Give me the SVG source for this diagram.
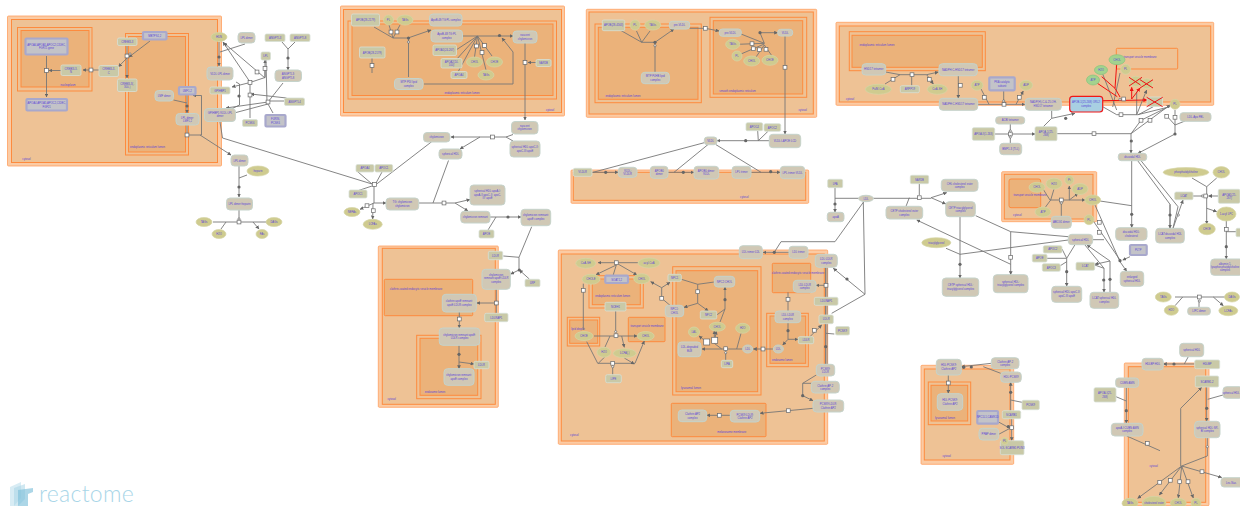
<svg xmlns="http://www.w3.org/2000/svg" width="1240" height="506" viewBox="0 0 1240 506">
<style>
text{font-family:"Liberation Sans",Arial,sans-serif;font-size:2.7px;fill:#5a44d8;text-anchor:middle}
.o{fill:#fbcba4;stroke:#ff9f60;stroke-width:.8}
.i{fill:#eec295;stroke:#fd8b3e;stroke-width:1}
.i2{fill:#ebb27a;stroke:#fd8b3e;stroke-width:1}
.c{fill:#d0c8b5;stroke:#c5d3cb;stroke-width:1}
.p{fill:#c9c9a7;stroke:#d7e0d5;stroke-width:.8}
.s{fill:#c3c3c8;stroke:#a8a8cc;stroke-width:2.2}
.e{fill:#cfcb8f;stroke:#d5d6a8;stroke-width:.7}
.g{fill:#a3d28e;stroke:#86c47c;stroke-width:.7}
.b{fill:#a8cfe2;stroke:#f01818;stroke-width:1.2}
.l{fill:none;stroke:#777;stroke-width:.9}
.a{fill:none;stroke:#777;stroke-width:.9;marker-end:url(#a)}
.rl{fill:none;stroke:#f01010;stroke-width:1}
.ra{fill:none;stroke:#f01010;stroke-width:1;marker-end:url(#r)}
.q{fill:#fff;stroke:#666;stroke-width:.7}
.d{fill:#666}
.x{fill:none;stroke:#ee1414;stroke-width:1}
</style>
<defs>
<marker id="a" viewBox="0 0 6 6" refX="5.5" refY="3" markerWidth="3.8" markerHeight="3.8" markerUnits="userSpaceOnUse" orient="auto"><path d="M0 0L6 3L0 6z" fill="#666"/></marker>
<marker id="r" viewBox="0 0 6 6" refX="5.5" refY="3" markerWidth="4" markerHeight="4" markerUnits="userSpaceOnUse" orient="auto"><path d="M0 0L6 3L0 6z" fill="#f01010"/></marker>
<rect id="sq" x="-1.9" y="-1.9" width="3.800" height="3.800" class="q"/>
<rect id="sb" x="-3" y="-3" width="6" height="6" class="q"/>
<circle id="dt" r="1.6" class="d"/>
<circle id="ci" r="1.1" class="q"/>
</defs>

<g id="compartments">
<rect class="o" x="7.5" y="16" width="214" height="150" rx="1"/><rect class="i" x="11.5" y="19.5" width="206" height="143"/>
<rect class="i" x="17.5" y="27.5" width="74.5" height="63.5"/><rect class="i2" x="21" y="30.5" width="68" height="56.5"/>
<rect class="i" x="125.5" y="33.5" width="63" height="121.500"/><rect class="i2" x="128.500" y="36.500" width="57" height="115.500"/>
<rect class="o" x="340.500" y="6" width="224" height="110" rx="1"/><rect class="i" x="343.500" y="9.500" width="218" height="103"/>
<rect class="i" x="348" y="21" width="208.500" height="78"/><rect class="i2" x="352" y="24" width="201" height="71.500"/>
<rect class="o" x="586.300" y="9.300" width="230.400" height="108" rx="1"/><rect class="i" x="589" y="12" width="224.300" height="102"/>
<rect class="i" x="595" y="24" width="106.300" height="78.700"/><rect class="i2" x="598.300" y="27.300" width="99.700" height="72"/>
<rect class="i" x="710" y="17.300" width="96.700" height="80"/><rect class="i2" x="713.300" y="20.700" width="89.400" height="73.300"/>
<rect class="o" x="836" y="22.300" width="377.700" height="83" rx="1"/><rect class="i" x="839.300" y="26" width="371.400" height="76"/>
<rect class="i" x="849.300" y="31.700" width="136" height="39"/><rect class="i2" x="852" y="35.300" width="130.300" height="32"/>
<rect class="i" x="1116.300" y="48.300" width="61.400" height="20.700" rx="1"/>
<rect class="o" x="571" y="170" width="237.700" height="33.300" rx="1"/><rect class="i" x="573.300" y="172.300" width="232.400" height="28"/>
<rect class="o" x="1001.700" y="171.700" width="95" height="50" rx="1"/><rect class="i" x="1004.300" y="174.300" width="88.700" height="44.700"/>
<rect class="i2" x="1009" y="179" width="31.700" height="28.700" rx="2"/>
<rect class="o" x="378.300" y="246" width="120" height="161.300" rx="1"/><rect class="i" x="382.300" y="248.300" width="113" height="156"/>
<rect class="i2" x="384.300" y="279.300" width="88.400" height="36.400" rx="1"/>
<rect class="i" x="416.700" y="335.300" width="64.300" height="63.400"/><rect class="i2" x="420" y="338.300" width="57.700" height="57"/>
<rect class="o" x="558.300" y="250" width="269.400" height="194.300" rx="1"/><rect class="i" x="561.300" y="254" width="263" height="187"/>
<rect class="i" x="589" y="275.700" width="54.300" height="32.300"/><rect class="i2" x="592.300" y="279" width="48" height="25.700"/>
<rect class="i" x="567.300" y="317.300" width="32.400" height="28.700"/><rect class="i2" x="569.700" y="320" width="28" height="23.300"/>
<rect class="i2" x="628.300" y="317.300" width="36.700" height="24.400" rx="1"/>
<rect class="i" x="672.700" y="266.700" width="88.300" height="128.300"/><rect class="i2" x="676" y="270.700" width="81.700" height="121"/>
<rect class="i" x="766.700" y="313.300" width="41.600" height="53.400"/><rect class="i2" x="770" y="316" width="35.700" height="47.300"/>
<rect class="i2" x="772.300" y="263.300" width="38.400" height="29.400" rx="1"/>
<rect class="i2" x="671.300" y="403.300" width="94.700" height="33.400" rx="1"/>
<rect class="o" x="921" y="365.300" width="92.700" height="99" rx="1"/><rect class="i" x="924.300" y="369" width="85.700" height="91"/>
<rect class="i" x="928.300" y="382" width="42.400" height="42.700"/><rect class="i2" x="931" y="385.300" width="36.700" height="35.700"/>
<rect class="o" x="1124.300" y="363" width="84.700" height="142.700" rx="1"/><rect class="i" x="1128.300" y="366.700" width="77.400" height="135.600"/>
<text x="68" y="85.500">nucleoplasm</text><text x="147.500" y="148">endoplasmic reticulum lumen</text><text x="26.500" y="160">cytosol</text>
<text x="462" y="94">endoplasmic reticulum lumen</text><text x="550" y="111">cytosol</text>
<text x="623" y="97">endoplasmic reticulum lumen</text><text x="737.500" y="91.500">smooth endoplasmic reticulum</text><text x="802.700" y="111">cytosol</text>
<text x="850" y="99.500">cytosol</text><text x="877" y="45.700">endoplasmic reticulum lumen</text><text x="1140" y="58">transport vesicle membrane</text>
<text x="744.300" y="197.500">cytosol</text><text x="1030" y="196">transport vesicle membrane</text><text x="1017.300" y="216">cytosol</text>
<text x="416" y="289.700">clathrin-coated endocytic vesicle membrane</text><text x="435" y="393">endosome lumen</text><text x="391.700" y="400">cytosol</text>
<text x="574.300" y="435.700">cytosol</text><text x="612.700" y="297">endoplasmic reticulum lumen</text><text x="578" y="330">lipid droplet</text><text x="647" y="327">transport vesicle membrane</text><text x="691" y="389">lysosomal lumen</text><text x="782.300" y="361">endosome lumen</text><text x="798" y="273.700">clathrin-coated endocytic vesicle membrane</text><text x="731.700" y="433">melanosome membrane</text>
<text x="945" y="419">lysosomal lumen</text><text x="946.700" y="457">cytosol</text><text x="1153.700" y="467">cytosol</text>
</g>

<g id="connectors">
<path class="a" d="M46.500 56V97"/><path class="a" d="M61 70.500H49"/><path class="a" d="M99 70H83"/><path class="a" d="M150 41L129 57"/><path class="a" d="M127 46V78"/><path class="a" d="M127 58L118.500 66.700"/>
<path class="l" d="M173.500 100L187 103"/><path class="a" d="M187 95V113"/><path class="l" d="M187 125V135"/><path class="a" d="M187 135H201.500V95.500H193"/><path class="a" d="M200 135L231 155"/>
<path class="a" d="M219 42V66"/><path class="l" d="M245 44L220 52"/><path class="a" d="M250 82L223 42"/><path class="a" d="M265 78L224 43"/>
<path class="a" d="M250 82.500L232 87"/><path class="l" d="M250 82.500L265 77.500V70"/><path class="a" d="M265 77.500V60"/><path class="l" d="M266 60L267 103"/><path class="l" d="M250 82.500V118"/><path class="a" d="M286.500 98L250.700 94"/>
<path class="l" d="M236 82L239.500 84V105L225 112"/><path class="l" d="M283 83L268 102"/><path class="l" d="M284 101H268"/><path class="l" d="M273 113L268 104"/><path class="a" d="M268 102L226 108"/><path class="l" d="M268 104L236 112.500"/>
<path class="l" d="M282 42L288 49L295 42"/><path class="a" d="M288 49V70"/>
<path class="l" d="M220 122L222.500 138L372 184"/>
<path class="a" d="M239 166V197"/><path class="l" d="M247 175L239 178"/><path class="l" d="M239 210V220"/><path class="a" d="M213 222H271"/><path class="l" d="M226 222L221 229"/><path class="a" d="M253 222L259 229"/>
<path class="l" d="M374 27L393 38"/><path class="l" d="M389 25L393 38L400 25"/><path class="a" d="M393 38H408L431 30"/><path class="l" d="M408.500 38V77"/><path class="a" d="M424 84H513V52L502 38"/><path class="a" d="M463 36H513"/>
<path class="l" d="M477.500 36L456 50M477.500 36L456 60M477.500 36L458 72M477.500 36L474.500 57M477.500 36L486 70M477.500 36L492 56"/>
<path class="l" d="M372 58V73"/><path class="a" d="M525 43V120"/><path class="a" d="M536 62.500H528"/>
<path class="l" d="M513 134.500L506 137L513 141"/><path class="a" d="M506 137H451"/><path class="a" d="M480 137L460 149"/><path class="l" d="M431.700 141.700L376.700 184"/>
<path class="l" d="M358 172L372 184M382 172L376 183M354 192L372 186"/><path class="a" d="M374 185V203H386"/><path class="a" d="M374 203L360 209.300"/><path class="a" d="M373 203L372.700 219"/>
<path class="a" d="M419 203H455L470 199.500"/><path class="a" d="M455 203L468 211"/><path class="l" d="M433 203L448.500 160.500"/><path class="a" d="M490 217H521"/><path class="l" d="M488 230L496 217"/>
<path class="l" d="M531.700 226.700L519 257.300V270M503.300 256L519 257.300"/><path class="a" d="M519 270L510.700 274"/><path class="a" d="M529.300 279L519.300 270"/>
<path class="l" d="M496.300 289V313"/><path class="a" d="M496.300 303H476.700"/><path class="a" d="M459.300 312V328"/><path class="a" d="M459 345V368.700"/><path class="a" d="M459 362L474 364"/>
<path class="l" d="M636.500 31L641.700 42.300L650 31M620 30L641.700 42.300"/><path class="a" d="M641.700 42.300H655L674 29"/><path class="l" d="M655 42.300V72.300"/>
<path class="a" d="M689.700 28.300H705.300L719 31"/><path class="l" d="M741 34L764.300 43.300"/><path class="a" d="M764.300 43.300L760 32.700H777.700"/>
<path class="l" d="M738 44.300L764.300 43.300M741 54L764.300 44M756 57L764.300 45M772 56L764.300 45"/>
<path class="a" d="M785 36V134"/><path class="a" d="M769.300 140.700H717"/><path class="l" d="M757.700 131L758.300 140.700L768 131.300"/>
<path class="l" d="M704.300 142.700L593 172.300"/><path class="a" d="M592 172.300H618.300"/><path class="l" d="M708.300 144.300L674 172.300"/><path class="a" d="M668 172.300H694"/><path class="l" d="M716 144.700L761 172.300"/><path class="a" d="M751 172.300H780.300"/>
<path class="a" d="M885.700 72L900 74.700H926.700L938.300 72"/><path class="l" d="M885 84L900 74.700M911.700 85.700V76"/><path class="a" d="M926.700 74.700L933.300 84"/><path class="a" d="M958.300 75.700V98.300"/>
<path class="a" d="M977.700 104.300H1025"/><path class="l" d="M980.700 88.300L989 104.300M1003.700 90.300V102"/><path class="a" d="M1016 104.300L1023.300 91"/>
<path class="a" d="M1051.700 110.300L1051.700 118.300L1075 113.300"/><path class="l" d="M1043.300 126.700L1051.700 118.300"/>
<path class="a" d="M994.700 134H1035"/><path class="l" d="M1010.300 124V143.300"/><path class="l" d="M1057 133.700H1131V143"/><path class="a" d="M1131 143V153"/>
<path class="a" d="M1131 133.700L1170 105"/><path class="l" d="M1131 133.700L1141 120.300L1170 106"/><path class="a" d="M1175 134L1138 153.300"/><path class="l" d="M1175 134V110M1175 125L1185 121M1175 125L1165 114"/>
<path class="l" d="M1102.700 74L1116.700 110M1120 73L1112.700 107M1102.700 106.700L1116.700 114.700H1137.700L1170 106.700"/><path class="l" d="M1136.700 114.700V91.700"/><path class="a" d="M1136.700 114.700L1146.700 90"/><path class="l" d="M1138.300 114.700L1153.300 106.700"/>
<path class="rl" d="M1101.700 76.700L1115 88.300L1120 97M1116.700 64L1115 88.300M1095 81.700L1117.300 96.700"/><path class="ra" d="M1102.700 100.700L1147 100"/><path class="ra" d="M1131.700 99V87.300"/><path class="ra" d="M1131.700 99L1140 88"/>
<path class="a" d="M638 262.700H598"/><path class="a" d="M616.300 265L596 274.700"/><path class="l" d="M616.300 265L613 275.700"/><path class="a" d="M618 264L637 275"/>
<path class="l" d="M583.300 283.700V330"/><path class="a" d="M594 336H637.300"/><path class="l" d="M615.700 311V332"/><path class="l" d="M610 336L605 347"/><path class="a" d="M621.700 336L624.300 347.300"/>
<path class="a" d="M586.700 341.700L597.700 363.300H635L644.300 341"/><path class="l" d="M605 356.700L598.300 363.300"/><path class="a" d="M624.300 358L634.300 364"/><path class="l" d="M612.700 363.300V374.700"/>
<path class="a" d="M661.700 287.700L650.700 281.700"/><path class="a" d="M661.700 287.700L670 282.300"/><path class="l" d="M661.700 287.700V298.300L670 305.300"/>
<path class="l" d="M681.300 279.300L697.700 284.300L714.300 282M697.700 284.300V303.300"/><path class="a" d="M697.700 303.300L684 307.300"/><path class="a" d="M697.700 303.300L708.300 311"/>
<path class="a" d="M725 309V287"/><path class="l" d="M716.700 315L725 309L720 322"/>
<path class="a" d="M743 349H702"/><path class="l" d="M725.700 349V360.300"/><path class="l" d="M736.700 349L741 333.300"/><path class="a" d="M721.700 349L714.300 343.300V331"/><path class="a" d="M706.700 342L699 336"/><path class="a" d="M714.700 340.300L716.300 331"/>
<path class="a" d="M773.300 349H753.300"/><path class="a" d="M788 322.700V339.300H798"/><path class="a" d="M788 339.300L782.700 345"/><path class="l" d="M788 292.300V311"/>
<path class="l" d="M825.500 267.300V364.300M827 267.300V364.300"/><path class="a" d="M826 285.300H816"/><path class="a" d="M808.300 338.300L821.700 325"/><path class="l" d="M834.300 334L826 333.300"/>
<path class="a" d="M816.300 375L802.700 383.300V395.700L813 400.700"/><path class="l" d="M811.300 383.300H802.700"/><path class="a" d="M813.300 408.300L760 413.300"/><path class="a" d="M730.300 415.300H706.700"/>
<path class="a" d="M789 252.300H763"/><path class="l" d="M774.300 252.300L781 241.700H835L863.300 202.300"/><path class="a" d="M865 294.300L833.300 268.300"/><path class="l" d="M863.300 202L865 294.300L831.700 313.300"/>
<path class="a" d="M835 187.700V212.300"/><path class="l" d="M835 198.300H858.700M873.300 198.300H931"/><path class="a" d="M931 197.700L946.700 192.700"/><path class="a" d="M931 197.700L945.700 204"/><path class="l" d="M919.300 183.700V195M909.300 197.700L906 206.300"/>
<path class="a" d="M960 216.700V278"/><path class="l" d="M946 248.300L960 254.300L1068.300 240"/><path class="l" d="M975.700 215.700L1010.700 231.700L1068.300 236.700"/><path class="a" d="M1010.700 231.700V274.700"/><path class="a" d="M1010.700 264.300L916.700 220"/>
<path class="l" d="M1043 189L1050 200M1054 189L1050.700 200M1045 207.700L1050.700 200"/><path class="a" d="M1050 200H1085"/><path class="l" d="M1061.300 203V216.300"/><path class="a" d="M1069.300 200V186"/><path class="a" d="M1069.300 200L1078 193.300"/>
<path class="l" d="M1100 201L1131.700 205.700"/><path class="a" d="M1131.700 160.700V227.700"/><path class="l" d="M1137.700 160.700L1170 204.300V228.300"/><path class="l" d="M1141 160.700L1178 206.700L1173 228.300"/><path class="a" d="M1173 228.300L1183 200"/>
<path class="a" d="M1170 204.300V228.300"/><path class="l" d="M1192 178L1206.700 186.700L1216.700 178"/><path class="a" d="M1206.700 186.700V224"/><path class="a" d="M1218.300 196H1208.500"/><path class="l" d="M1193 196H1203"/><path class="a" d="M1206.700 208.300L1216.700 211.700"/>
<path class="a" d="M1226.300 221V259"/><path class="l" d="M1236 231.700H1226.300"/>
<path class="a" d="M1175 297H1230"/><path class="l" d="M1199 307.300V300M1182.700 297L1175 305.700"/><path class="a" d="M1213.300 297L1223.300 305.700"/>
<path class="l" d="M1075 244.700L1066.700 258.300M1062 249L1066.700 258.300M1047 258.300H1066.700M1060.300 265.700L1066.700 261.700"/><path class="a" d="M1066.700 258.300V286.300"/><path class="l" d="M1092.700 239.700H1104"/>
<path class="a" d="M1085 245L1104 268.300V292.300"/><path class="a" d="M1110 292.300V261L1087 245"/><path class="l" d="M1094.700 265L1104 268.300"/><path class="a" d="M1110 261L1095 264.300"/>
<path class="a" d="M1095 205L1120 261.700L1126.700 271.300"/><path class="a" d="M1130 256.700L1122.700 260"/><path class="l" d="M1093.300 221L1120 260"/>
<path class="a" d="M991.300 363.300L961.300 366.700"/><path class="l" d="M983.300 366.700L1000.700 373.300"/><path class="a" d="M948.300 375V393.300"/><path class="a" d="M1010.700 410.700V382.300"/><path class="l" d="M1010.700 400L1022 402.300"/>
<path class="a" d="M1011.700 418.700V440.700"/><path class="l" d="M998 421.700L1010 428.300M998.700 434.300L1010 428.300"/>
<path class="a" d="M1194.700 364H1163.300"/><path class="l" d="M1184.300 364L1188.300 356.700"/><path class="a" d="M1126.300 387.300V423.300"/><path class="l" d="M1116 396.700L1126.300 401"/><path class="a" d="M1206.700 387V421.300"/><path class="l" d="M1223 395L1207.700 399.300"/>
<path class="l" d="M1126.700 436L1160 450.700"/><path class="l" d="M1207.300 437.700V456L1181.700 466"/><path class="l" d="M1180.700 408.300V466"/><path class="a" d="M1180.700 408.300L1201.700 387.300"/>
<path class="a" d="M1181.700 466L1137.700 498.300"/><path class="a" d="M1181.700 466L1159.300 495"/><path class="a" d="M1181.700 466L1178.300 498"/><path class="a" d="M1181.700 466L1193.300 498"/><path class="a" d="M1181.700 466L1221.700 477.500"/>
<use href="#sq" x="46.500" y="70.500"/><use href="#sq" x="91" y="70"/><use href="#sq" x="127" y="56"/><use href="#ci" x="130" y="54"/><use href="#dt" x="187" y="106"/><use href="#sq" x="187" y="135"/>
<use href="#dt" x="219" y="57"/><use href="#sq" x="257" y="72"/><use href="#sq" x="265" y="68.500"/><use href="#sq" x="250" y="82.500"/><use href="#dt" x="239" y="96"/><use href="#sq" x="250" y="95"/><use href="#sq" x="268" y="102"/><use href="#dt" x="288" y="58"/>
<use href="#dt" x="239" y="187"/><use href="#sq" x="239" y="222"/><use href="#ci" x="239" y="219"/>
<use href="#sq" x="391" y="32"/><use href="#sq" x="397" y="32"/><use href="#dt" x="408.500" y="38"/><use href="#ci" x="408.500" y="42"/><use href="#dt" x="499.500" y="35.500"/><use href="#sq" x="476.500" y="46"/><use href="#sq" x="482" y="52.500"/><use href="#sq" x="484.500" y="45.500"/><use href="#sq" x="372" y="65.500"/><use href="#sq" x="525" y="62.500"/>
<use href="#sq" x="492.500" y="137"/><use href="#sq" x="374.500" y="184.500"/><use href="#sq" x="367" y="205.700"/><use href="#sq" x="373.300" y="210.700"/><use href="#sq" x="444" y="203"/><use href="#dt" x="508" y="217"/><use href="#dt" x="519.300" y="270"/>
<use href="#sq" x="496.300" y="303"/><use href="#sq" x="459.300" y="319"/><use href="#dt" x="459" y="354.300"/>
<use href="#dt" x="655" y="42.300"/><use href="#ci" x="655" y="45.700"/><use href="#sq" x="705.300" y="28.300"/><use href="#dt" x="760" y="32.700"/><use href="#sq" x="752" y="43.700"/><use href="#sq" x="753.300" y="48.700"/><use href="#sq" x="759.300" y="49.700"/><use href="#sq" x="766" y="49.300"/><use href="#sq" x="785" y="67.300"/>
<use href="#dt" x="745.700" y="140.700"/><use href="#dt" x="605.700" y="172.300"/><use href="#dt" x="683.300" y="172.300"/><use href="#dt" x="770.700" y="171.700"/>
<use href="#sq" x="912" y="74.700"/><use href="#sq" x="893" y="79.300"/><use href="#sq" x="929.300" y="79.300"/><use href="#sq" x="960.300" y="85.300"/><use href="#sq" x="984.300" y="97.300"/><use href="#sq" x="1004" y="104.300"/><use href="#ci" x="1003.700" y="101"/><use href="#sq" x="1019.300" y="97.300"/><use href="#dt" x="1065.700" y="118.300"/><use href="#sq" x="1010.300" y="134"/><use href="#ci" x="1010.300" y="131"/><use href="#ci" x="1010.300" y="137"/><use href="#sq" x="1094" y="133.700"/><use href="#dt" x="1131.300" y="141"/><use href="#sq" x="1141" y="120.300"/><use href="#sq" x="1150" y="120.300"/><use href="#dt" x="1175" y="134"/><use href="#sq" x="1175" y="117.300"/><use href="#sq" x="1166.700" y="116.300"/><use href="#sq" x="1121" y="114.700"/><use href="#sq" x="1123.700" y="99"/><use href="#ci" x="1120" y="99.300"/>
<use href="#sq" x="616.300" y="262.700"/><use href="#sq" x="583.300" y="290.300"/><use href="#sq" x="616" y="335.700"/><use href="#ci" x="615.700" y="331.700"/><use href="#sq" x="612.700" y="363.300"/><use href="#ci" x="612.700" y="366.700"/><use href="#sq" x="661.700" y="298.300"/><use href="#sq" x="697.700" y="291.700"/><use href="#dt" x="725" y="299.700"/><use href="#sq" x="725.700" y="348.700"/><use href="#ci" x="725.700" y="352.700"/><use href="#sb" x="706.700" y="342"/><use href="#sb" x="714.700" y="340.300"/><use href="#sq" x="763" y="349"/><use href="#dt" x="788" y="330.700"/><use href="#sq" x="788" y="299.300"/><use href="#sq" x="826" y="285.300"/><use href="#dt" x="825.700" y="346.700"/><use href="#sq" x="814.300" y="330.300"/><use href="#dt" x="802.700" y="395.700"/><use href="#sq" x="788.300" y="410.700"/><use href="#sq" x="719.300" y="415.300"/><use href="#dt" x="774.300" y="252.300"/><use href="#dt" x="847" y="279"/>
<use href="#dt" x="835" y="204"/><use href="#sq" x="919.300" y="197.700"/><use href="#dt" x="960" y="264.300"/><use href="#sq" x="1010.700" y="257.300"/>
<use href="#sq" x="1061.300" y="200"/><use href="#ci" x="1061.300" y="203"/><use href="#dt" x="1131.700" y="214.300"/><use href="#dt" x="1170" y="215"/><use href="#ci" x="1178.300" y="215"/><use href="#sq" x="1205.700" y="196"/><use href="#ci" x="1202.300" y="196"/><use href="#sq" x="1226.300" y="229.300"/><use href="#dt" x="1226.300" y="246.700"/><use href="#sq" x="1199.300" y="297"/><use href="#ci" x="1199.300" y="301"/>
<use href="#dt" x="1066.700" y="271.700"/><use href="#dt" x="1103.700" y="280"/><use href="#dt" x="1110" y="279.300"/><use href="#dt" x="1120" y="260.700"/><use href="#sq" x="1099.300" y="222.300"/><use href="#sq" x="1099.300" y="232.300"/>
<use href="#dt" x="971.300" y="367"/><use href="#dt" x="963.700" y="367.300"/><use href="#sq" x="948.300" y="383"/><use href="#dt" x="1010.700" y="392.300"/><use href="#sq" x="1011.700" y="427.700"/><use href="#dt" x="1008.300" y="426.700"/>
<use href="#dt" x="1174" y="364"/><use href="#dt" x="1126.300" y="410.700"/><use href="#dt" x="1206.700" y="408.300"/><use href="#sq" x="1147.300" y="443.300"/><use href="#ci" x="1207.300" y="446.700"/><use href="#sq" x="1159.700" y="482.300"/><use href="#sq" x="1170.300" y="480.300"/><use href="#sq" x="1179.700" y="481.700"/><use href="#sq" x="1188" y="481.700"/><use href="#sq" x="1202" y="471.700"/>
</g>

<g id="n-gene-a"><rect class="s" x="25.500" y="38.500" width="42" height="16" rx="1"/><text x="46.500" y="45.500">APOA4,APOA5,APOC2,CIDEC,<tspan x="46.500" dy="3.500">FGF21 gene</tspan></text></g>
<g id="n-cr1"><rect class="p" x="61" y="65" width="20" height="10.500" rx="1.500"/><text x="71" y="69.500">CREB3L3-<tspan x="71" dy="3.500">N</tspan></text></g>
<g id="n-cr2"><rect class="p" x="99" y="65.500" width="19.500" height="11" rx="1.500"/><text x="108.700" y="70">CREB3L3-<tspan x="108.700" dy="3.500">C</tspan></text></g>
<g id="n-cr3"><rect class="p" x="117.500" y="38" width="19.500" height="7.500" rx="1.500"/><text x="127.200" y="43">CREB3L3</text></g>
<g id="n-mb"><rect class="s" x="143" y="32" width="23.500" height="7.500" rx="1"/><text x="154.700" y="37">MBTPS1,2</text></g>
<g id="n-cr4"><rect class="p" x="117.500" y="79" width="19.500" height="12.500" rx="1.500"/><text x="127.200" y="84.500">CREB3L3(-<tspan x="127.200" dy="3.500">300-)</tspan></text></g>
<g id="n-lipe"><rect class="c" x="155" y="90.500" width="18.500" height="10.500" rx="3.500"/><text x="164.200" y="96.800">LMF dimer</text></g>
<g id="n-lmf"><rect class="s" x="179" y="87" width="16.500" height="7.500" rx="1"/><text x="187.200" y="92">LMF1,2</text></g>
<g id="n-lpl2"><rect class="c" x="176" y="113.500" width="23" height="11.500" rx="3.500"/><text x="187.500" y="118.500">LPL dimer:<tspan x="187.500" dy="3.500">LMF1,2</tspan></text></g>
<g id="n-gene-b"><rect class="s" x="26.500" y="99" width="40.500" height="11.500" rx="1"/><text x="46.700" y="104">APOA4,APOA5,APOC2,CIDEC,<tspan x="46.700" dy="3.500">FGF21</tspan></text></g>
<g id="n-hdn"><ellipse class="e" cx="219" cy="37" rx="8" ry="4.500"/><text x="219" y="38">HDN</text></g>
<g id="n-lpl3"><rect class="c" x="238" y="32.500" width="17" height="10.500" rx="3.500"/><text x="246.500" y="38.700">LPL dimer</text></g>
<g id="n-vlpl"><rect class="c" x="207" y="67" width="26" height="13" rx="3.500"/><text x="220" y="74.500">VLDL:LPL dimer</text></g>
<g id="n-gpi"><rect class="p" x="210" y="87" width="20" height="7" rx="1.500"/><text x="220" y="91.500">GPIHBP1</text></g>
<g id="n-lgp"><rect class="c" x="204.500" y="108.500" width="31" height="13" rx="3.500"/><text x="220" y="113.800">GPIHBP1:VLDL:LPL<tspan x="220" dy="3.500">dimer</tspan></text></g>
<g id="n-lpa"><rect class="p" x="261" y="52" width="9.500" height="8" rx="1.500"/><text x="265.700" y="57">LPL</text></g>
<g id="n-ang3"><rect class="p" x="265" y="34" width="20" height="7.500" rx="1.500"/><text x="275" y="38.800">ANGPTL3</text></g>
<g id="n-ang8"><rect class="p" x="290" y="34" width="20" height="7.500" rx="1.500"/><text x="300" y="38.800">ANGPTL8</text></g>
<g id="n-ang38"><rect class="c" x="275" y="70" width="26.500" height="11.500" rx="3.500"/><text x="288.200" y="75">ANGPTL3:<tspan x="288.200" dy="3.500">ANGPTL8</tspan></text></g>
<g id="n-ang4"><rect class="p" x="284.500" y="98" width="20" height="7.500" rx="1.500"/><text x="294.500" y="102.800">ANGPTL4</text></g>
<g id="n-ps"><rect class="p" x="242.500" y="119.500" width="15" height="7" rx="1.500"/><text x="250" y="124">PCSK6</text></g>
<g id="n-fur"><rect class="s" x="265.500" y="115" width="20" height="11.500" rx="1"/><text x="275.500" y="120">FURIN,<tspan x="275.500" dy="3.500">PCSK6</tspan></text></g>
<g id="n-lpld"><rect class="c" x="231" y="155" width="17" height="11" rx="3.500"/><text x="239.500" y="161.500">LPL dimer</text></g>
<g id="n-hep"><ellipse class="e" cx="258" cy="171" rx="11" ry="5"/><text x="258" y="172">heparin</text></g>
<g id="n-lplh"><rect class="c" x="226.500" y="198" width="26" height="12" rx="3.500"/><text x="239.500" y="205">LPL dimer:heparin</text></g>
<g id="n-tags"><ellipse class="e" cx="204" cy="222" rx="8" ry="4.500"/><text x="204" y="223">TAGs</text></g>
<g id="n-h2o"><ellipse class="e" cx="219" cy="234" rx="7" ry="4.500"/><text x="219" y="235">H2O</text></g>
<g id="n-dags"><ellipse class="e" cx="274" cy="222" rx="8" ry="4.500"/><text x="274" y="223">DAGs</text></g>
<g id="n-fas"><ellipse class="e" cx="262" cy="234" rx="6" ry="4.500"/><text x="262" y="235">FAs</text></g>

<g id="n2a"><rect class="p" x="351.500" y="14" width="28" height="12" rx="1.500"/><text x="365.500" y="21">APOB(28-2179)</text></g>
<g id="n2b"><ellipse class="e" cx="388.500" cy="20" rx="5" ry="5"/><text x="388.500" y="21">PL</text></g>
<g id="n2c"><ellipse class="e" cx="405" cy="20" rx="8" ry="5"/><text x="405" y="21">TAGs</text></g>
<g id="n2d"><rect class="c" x="429.500" y="14" width="32.500" height="12" rx="3.500"/><text x="445.700" y="21">ApoB-48:TG:PL complex</text></g>
<g id="n2e"><rect class="c" x="431" y="30" width="31.500" height="12" rx="3.500"/><text x="446.700" y="35">ApoB-48:TG:PL<tspan x="446.700" dy="3.500">complex</tspan></text></g>
<g id="n2f"><rect class="p" x="359.500" y="47" width="25.500" height="11" rx="1.500"/><text x="372.200" y="53.500">APOB(28-2179)</text></g>
<g id="n2g"><rect class="p" x="433" y="45" width="23.500" height="10.500" rx="1.500"/><text x="444.700" y="51">APOA1(24-267)</text></g>
<g id="n2h"><rect class="p" x="441" y="58.500" width="21" height="9.500" rx="1.500"/><text x="451.500" y="62.500">APOA2(24-<tspan x="451.500" dy="3.300">100)</tspan></text></g>
<g id="n2i"><rect class="p" x="451" y="71.500" width="16" height="7" rx="1.500"/><text x="459" y="76">APOA4</text></g>
<g id="n2j"><ellipse class="e" cx="474.500" cy="62" rx="8" ry="5"/><text x="474.500" y="63">CHOL</text></g>
<g id="n2k"><ellipse class="e" cx="494.500" cy="62" rx="8" ry="5"/><text x="494.500" y="63">CHOE</text></g>
<g id="n2l"><ellipse class="e" cx="486" cy="75" rx="8" ry="5"/><text x="486" y="76">TAGs</text></g>
<g id="n2m"><rect class="c" x="513" y="31" width="24" height="12" rx="3.500"/><text x="525" y="36">nascent<tspan x="525" dy="3.500">chylomicron</tspan></text></g>
<g id="n2n"><rect class="p" x="536" y="59.500" width="15" height="7" rx="1.500"/><text x="543.500" y="64">SAR1B</text></g>
<g id="n2o"><rect class="c" x="394.500" y="78.500" width="28.500" height="11" rx="3.500"/><text x="408.700" y="83.300">MTP:PDI lipid<tspan x="408.700" dy="3.500">complex</tspan></text></g>
<g id="n2p"><rect class="c" x="511.500" y="121.500" width="26.500" height="12.500" rx="3.500"/><text x="524.700" y="126.800">nascent<tspan x="524.700" dy="3.500">chylomicron</tspan></text></g>
<g id="n2q"><rect class="c" x="510" y="141" width="30" height="16" rx="3.500"/><text x="525" y="148">spherical HDL:apoC-II:<tspan x="525" dy="3.500">apoC-III:apoE</tspan></text></g>
<g id="n2r"><rect class="c" x="423.500" y="132.500" width="26.500" height="9.500" rx="3.500"/><text x="436.700" y="138.300">chylomicron</text></g>
<g id="n2s"><rect class="c" x="439" y="149" width="23" height="10" rx="3.500"/><text x="450.500" y="155">spherical HDL</text></g>
<g id="n2t"><rect class="p" x="356" y="164.500" width="18" height="7.500" rx="1.500"/><text x="365" y="169">APOA4</text></g>
<g id="n2u"><rect class="p" x="375" y="164.500" width="17.700" height="7.500" rx="1.500"/><text x="383.800" y="169">APOC1</text></g>
<g id="n2v"><rect class="p" x="349" y="190" width="18" height="8" rx="1.500"/><text x="358" y="195">APOC1</text></g>
<g id="n2w"><ellipse class="e" cx="352" cy="212" rx="8" ry="4.500"/><text x="352" y="213">NEFAs</text></g>
<g id="n2x"><ellipse class="e" cx="372.700" cy="224.300" rx="9.500" ry="5"/><text x="372.700" y="225.300">LCFAs</text></g>
<g id="n2y"><rect class="c" x="386" y="198" width="32.700" height="12" rx="3.500"/><text x="402.300" y="203">TG: chylomicron<tspan x="402.300" dy="3.500">chylomicron</tspan></text></g>
<g id="n2z"><rect class="c" x="470" y="185" width="35" height="20" rx="3.500"/><text x="487.500" y="192">spherical HDL:apoA-I:<tspan x="487.500" dy="3.500">apoA-II:apoC-II: apoC-</tspan><tspan x="487.500" dy="3.500">III: apoE</tspan></text></g>
<g id="n2aa"><rect class="c" x="460.700" y="211.300" width="29.300" height="11.700" rx="3.500"/><text x="475.300" y="218">chylomicron remnant</text></g>
<g id="n2ab"><rect class="p" x="479" y="230" width="15" height="8" rx="1.500"/><text x="486.500" y="235">APOE</text></g>
<g id="n2ac"><rect class="c" x="521" y="209.300" width="29.700" height="16.400" rx="3.500"/><text x="535.800" y="216.300">chylomicron remnant:<tspan x="535.800" dy="3.500">apoE complex</tspan></text></g>
<g id="n2ad"><rect class="p" x="488.300" y="251.300" width="14.400" height="8.400" rx="1.500"/><text x="495.500" y="256.500">LDLR</text></g>
<g id="n2ae"><rect class="c" x="482" y="269.300" width="28.300" height="20" rx="3.500"/><text x="496.200" y="276">chylomicron<tspan x="496.200" dy="3.300">remnant:apoE:LDLR</tspan><tspan x="496.200" dy="3.300">complex</tspan></text></g>
<g id="n2af"><rect class="p" x="525" y="279.300" width="15" height="7.400" rx="1.500"/><text x="532.500" y="284">LRP</text></g>
<g id="n2ag"><rect class="c" x="442.300" y="294.300" width="34" height="17.700" rx="3.500"/><text x="459.300" y="302">clathrin:apoE remnant:<tspan x="459.300" dy="3.500">apoE:LDLR complex</tspan></text></g>
<g id="n2ah"><rect class="p" x="484.700" y="313.300" width="23.300" height="8.400" rx="1.500"/><text x="496.300" y="318.500">LDLRAP1</text></g>
<g id="n2ai"><rect class="c" x="439.300" y="328" width="40.400" height="17.300" rx="3.500"/><text x="459.500" y="335.500">chylomicron remnant:apoE:<tspan x="459.500" dy="3.500">LDLR complex</tspan></text></g>
<g id="n2aj"><rect class="p" x="474" y="361.300" width="15" height="7.400" rx="1.500"/><text x="481.500" y="366">LDLR</text></g>
<g id="n2ak"><rect class="c" x="444" y="368.700" width="30" height="16.600" rx="3.500"/><text x="459" y="376">chylomicron remnant:<tspan x="459" dy="3.500">apoE complex</tspan></text></g>

<g id="n3a"><rect class="p" x="602.300" y="20" width="22.400" height="10.700" rx="1.500"/><text x="613.500" y="26.300">APOB(28-4563)</text></g>
<g id="n3b"><ellipse class="e" cx="635" cy="25" rx="5" ry="5"/><text x="635" y="26">PL</text></g>
<g id="n3c"><ellipse class="e" cx="652.700" cy="25" rx="8" ry="5"/><text x="652.700" y="26">TAGs</text></g>
<g id="n3d"><rect class="c" x="669.300" y="21.300" width="20.400" height="7.700" rx="3"/><text x="679.500" y="26.200">pre-VLDL</text></g>
<g id="n3e"><rect class="c" x="641.300" y="72.300" width="28" height="11.400" rx="3.500"/><text x="655.300" y="77.300">MTP:P4HB lipid<tspan x="655.300" dy="3.500">complex</tspan></text></g>
<g id="n3f"><rect class="c" x="719.300" y="29" width="22" height="7.300" rx="3"/><text x="730.300" y="33.700">pre-VLDL</text></g>
<g id="n3g"><rect class="c" x="777.700" y="29.300" width="15" height="6.700" rx="3"/><text x="785.200" y="33.700">VLDL</text></g>
<g id="n3h"><ellipse class="e" cx="732.700" cy="44.300" rx="7" ry="5"/><text x="732.700" y="45.300">TAGs</text></g>
<g id="n3i"><ellipse class="e" cx="737" cy="56" rx="5" ry="5"/><text x="737" y="57">PL</text></g>
<g id="n3j"><ellipse class="e" cx="751.700" cy="61" rx="8" ry="5"/><text x="751.700" y="62">CHOL</text></g>
<g id="n3k"><ellipse class="e" cx="770" cy="60.300" rx="8" ry="5"/><text x="770" y="61.300">CHOE</text></g>
<g id="n3l"><rect class="p" x="746" y="122.700" width="16.700" height="8" rx="1.500"/><text x="754.300" y="127.700">APOC4</text></g>
<g id="n3m"><rect class="p" x="764" y="123.700" width="16.700" height="7.600" rx="1.500"/><text x="772.300" y="128.500">APOC2</text></g>
<g id="n3n"><rect class="c" x="769.300" y="134.300" width="31.400" height="13.400" rx="3.500"/><text x="785" y="142">VLDL:LAPOE:LCD</text></g>
<g id="n3o"><rect class="c" x="704.300" y="137" width="12.700" height="7.700" rx="3"/><text x="710.700" y="141.800">VLDL</text></g>
<g id="n3p"><rect class="p" x="573.300" y="168.300" width="18.700" height="8" rx="1.500"/><text x="582.700" y="173.300">VLDLR</text></g>
<g id="n3q"><rect class="c" x="618.300" y="167.300" width="18.700" height="10" rx="3.500"/><text x="627.700" y="171.800">VLDL:<tspan x="627.700" dy="3.500">VLDLR</tspan></text></g>
<g id="n3r"><rect class="c" x="650.300" y="166.300" width="17.700" height="12" rx="3.500"/><text x="659.200" y="171.500">APOB0<tspan x="659.200" dy="3.500">dimer</tspan></text></g>
<g id="n3s"><rect class="c" x="694" y="166.300" width="24.700" height="12.700" rx="3.500"/><text x="706.300" y="171.800">APOB0 dimer:<tspan x="706.300" dy="3.500">VLDL</tspan></text></g>
<g id="n3t"><rect class="c" x="732" y="166.300" width="19" height="12" rx="3.500"/><text x="741.500" y="173.300">LPL trimer</text></g>
<g id="n3u"><rect class="c" x="780.300" y="166.300" width="24.400" height="12.400" rx="3.500"/><text x="792.500" y="173.500">LPL trimer:VLDL</text></g>

<g id="n4a"><rect class="c" x="862" y="63.700" width="23.700" height="11.300" rx="3.500"/><text x="873.800" y="70.300">HSD17 tetramer</text></g>
<g id="n4b"><rect class="c" x="939" y="63.700" width="38.300" height="12" rx="3.500"/><text x="958.200" y="70.700">NADPH:C-HSD17 tetramer</text></g>
<g id="n4c"><rect class="c" x="939.300" y="98.300" width="38.400" height="12" rx="3.500"/><text x="958.500" y="105.300">NADPH:C-HSD17 tetramer</text></g>
<g id="n4d"><ellipse class="e" cx="878.300" cy="89.300" rx="13" ry="5"/><text x="878.300" y="90.300">PalM-CoA</text></g>
<g id="n4e"><rect class="p" x="900.300" y="85.700" width="19" height="7" rx="1.500"/><text x="909.800" y="90.200">ARPP19</text></g>
<g id="n4f"><ellipse class="e" cx="937.300" cy="89.300" rx="10" ry="5"/><text x="937.300" y="90.300">CoA-SH</text></g>
<g id="n4g"><ellipse class="e" cx="977" cy="85.300" rx="6" ry="5"/><text x="977" y="86.300">ATP</text></g>
<g id="n4h"><rect class="s" x="989.300" y="77.300" width="25.400" height="13" rx="1"/><text x="1002" y="83">PKA catalytic<tspan x="1002" dy="3.500">subunit</tspan></text></g>
<g id="n4i"><ellipse class="e" cx="1026" cy="85.300" rx="6.500" ry="5"/><text x="1026" y="86.300">ADP</text></g>
<g id="n4j"><rect class="c" x="1025.300" y="98.300" width="36" height="12" rx="3.500"/><text x="1043.300" y="103.300">NADP(H)-C-&amp;-25-OH-<tspan x="1043.300" dy="3.500">HSD17 tetramer</tspan></text></g>
<g id="n4k"><rect class="b" x="1069.700" y="96.300" width="33" height="15.700" rx="3"/><text x="1086.200" y="103.300">APOB-1(25-268) ORL2:<tspan x="1086.200" dy="3.500">complex</tspan></text></g>
<g id="n4l"><ellipse class="g" cx="1093" cy="80" rx="6.500" ry="5"/><text x="1093" y="81">ATP</text></g>
<g id="n4m"><ellipse class="g" cx="1101" cy="70" rx="6.500" ry="4.500"/><text x="1101" y="71">H2O</text></g>
<g id="n4n"><ellipse class="g" cx="1117" cy="59.700" rx="8" ry="5"/><text x="1117" y="60.700">CHOL</text></g>
<g id="n4o"><ellipse class="e" cx="1125.700" cy="69.300" rx="5" ry="5"/><text x="1125.700" y="70.300">PL</text></g>
<g id="n4p"><ellipse class="e" cx="1135.700" cy="81.300" rx="6.500" ry="5"/><path class="x" d="M1129 77.300L1142 86M1142 77.300L1129 86"/></g>
<g id="n4q"><ellipse class="e" cx="1146.700" cy="83.700" rx="6" ry="5"/><path class="x" d="M1140 79.700L1153 88M1153 79.700L1140 88"/></g>
<g id="n4r"><rect class="p" x="1147" y="97" width="15.500" height="9.500" rx="2"/><path class="x" d="M1146.700 97.300L1162.700 106.700M1162.700 97.300L1146.700 106.700"/></g>
<g id="n4s"><ellipse class="e" cx="1175" cy="104.300" rx="5" ry="5"/><text x="1175" y="105.300">PL</text></g>
<g id="n4t"><rect class="c" x="1180" y="112.700" width="31" height="8.600" rx="3"/><text x="1195.500" y="118">LDL-Apo FBL</text></g>
<g id="n4u"><rect class="c" x="995.700" y="116.700" width="29" height="7.300" rx="3"/><text x="1010.200" y="121.400">ACBI tetramer</text></g>
<g id="n4v"><rect class="p" x="972.300" y="127.700" width="22.400" height="12.600" rx="1.500"/><text x="983.500" y="135">APOA-II(1-263)</text></g>
<g id="n4w"><rect class="p" x="1035" y="126.700" width="22" height="14" rx="1.500"/><text x="1046" y="132.700">APOA-1(25-<tspan x="1046" dy="3.500">268)</tspan></text></g>
<g id="n4x"><rect class="c" x="999.700" y="143.300" width="22" height="11.400" rx="3.500"/><text x="1010.700" y="150">BMP1-3 (TLL)</text></g>
<g id="n4y"><rect class="c" x="1118.300" y="153.300" width="28.400" height="7.400" rx="3"/><text x="1132.500" y="158">discoidal HDL</text></g>

<g id="n6a"><ellipse class="e" cx="585.700" cy="263.300" rx="10" ry="5"/><text x="585.700" y="264.300">CoA-SH</text></g>
<g id="n6b"><ellipse class="e" cx="649" cy="263" rx="11" ry="5"/><text x="649" y="264">acyl-CoA</text></g>
<g id="n6c"><ellipse class="e" cx="591" cy="279.300" rx="9" ry="5"/><text x="591" y="280.300">CHOLE</text></g>
<g id="n6d"><rect class="s" x="605.300" y="275.700" width="22.700" height="7.300" rx="1"/><text x="616.700" y="280.500">SOAT1,2</text></g>
<g id="n6e"><ellipse class="e" cx="641.700" cy="278.700" rx="8" ry="5"/><text x="641.700" y="279.700">CHOL</text></g>
<g id="n6f"><rect class="p" x="605" y="302.300" width="21" height="8.700" rx="1.500"/><text x="615.500" y="307.700">NCEH1</text></g>
<g id="n6g"><ellipse class="e" cx="584" cy="336" rx="9" ry="4.500"/><text x="584" y="337">CHOE</text></g>
<g id="n6h"><ellipse class="e" cx="645.700" cy="336" rx="8.500" ry="4.500"/><text x="645.700" y="337">CHOL</text></g>
<g id="n6i"><ellipse class="e" cx="604" cy="352.300" rx="7" ry="5"/><text x="604" y="353.300">H2O</text></g>
<g id="n6j"><ellipse class="e" cx="624.700" cy="353.300" rx="11.500" ry="4.500"/><text x="624.700" y="354.300">LCFA(-)</text></g>
<g id="n6k"><rect class="p" x="605.700" y="374.700" width="15.600" height="8" rx="1.500"/><text x="613.500" y="379.700">LIPE</text></g>
<g id="n6l"><rect class="p" x="668" y="274.300" width="13.300" height="7" rx="1.500"/><text x="674.700" y="278.800">NPC1</text></g>
<g id="n6m"><rect class="c" x="665.300" y="305.300" width="18.400" height="11.400" rx="3.500"/><text x="674.500" y="310.300">NPC1:<tspan x="674.500" dy="3.500">CHOL</tspan></text></g>
<g id="n6n"><rect class="c" x="714.300" y="276.300" width="20.400" height="10.700" rx="3.500"/><text x="724.500" y="282.700">NPC2:CHOL</text></g>
<g id="n6o"><rect class="p" x="700.300" y="311" width="16.400" height="8" rx="1.500"/><text x="708.500" y="316">NPC2</text></g>
<g id="n6p"><ellipse class="e" cx="717.300" cy="326.700" rx="8" ry="4.500"/><text x="717.300" y="327.700">CHOL</text></g>
<g id="n6q"><ellipse class="e" cx="742.700" cy="328.300" rx="7" ry="5"/><text x="742.700" y="329.300">H2O</text></g>
<g id="n6r"><ellipse class="e" cx="694" cy="332" rx="5.500" ry="5"/><text x="694" y="333">LAL</text></g>
<g id="n6s"><rect class="c" x="678" y="342" width="23" height="14.700" rx="3.500"/><text x="689.500" y="348.300">LDL-degraded<tspan x="689.500" dy="3.500">B48</tspan></text></g>
<g id="n6t"><ellipse class="c" cx="747.700" cy="349" rx="5" ry="4"/><text x="747.700" y="350">LDL</text></g>
<g id="n6u"><ellipse class="c" cx="778.300" cy="349" rx="5" ry="4"/><text x="778.300" y="350">LDL</text></g>
<g id="n6v"><rect class="p" x="721.300" y="360.300" width="11.400" height="7.400" rx="1.500"/><text x="727" y="365">LIPA</text></g>
<g id="n6w"><rect class="p" x="798.300" y="336.700" width="15.400" height="7" rx="1.500"/><text x="806" y="341.200">LDLR</text></g>
<g id="n6x"><rect class="c" x="775" y="311" width="25.700" height="11.700" rx="3.500"/><text x="787.800" y="316">LDL:LDLR<tspan x="787.800" dy="3.500">complex</tspan></text></g>
<g id="n6y"><rect class="c" x="793.300" y="280.300" width="22.700" height="12" rx="3.500"/><text x="804.700" y="285.500">LDL:LDLR<tspan x="804.700" dy="3.500">complex</tspan></text></g>
<g id="n6z"><rect class="c" x="815.300" y="254.300" width="22" height="13" rx="3.500"/><text x="826.300" y="260">LDL:LDLR<tspan x="826.300" dy="3.500">complex</tspan></text></g>
<g id="n6aa"><rect class="p" x="814.300" y="297.300" width="23.700" height="8" rx="1.500"/><text x="826.200" y="302.300">LDLRAP1</text></g>
<g id="n6ab"><rect class="p" x="819" y="315" width="14.300" height="8.700" rx="1.500"/><text x="826.200" y="320.400">LDLR</text></g>
<g id="n6ac"><rect class="p" x="835.500" y="326.500" width="14" height="8.500" rx="1.500"/><text x="842.500" y="331.800">PCSK9</text></g>
<g id="n6ad"><rect class="c" x="816.300" y="364.300" width="18.400" height="11.700" rx="3.500"/><text x="825.500" y="369.500">PCSK9:<tspan x="825.500" dy="3.500">LDLR</tspan></text></g>
<g id="n6ae"><rect class="c" x="811.300" y="381.300" width="28" height="11.700" rx="3.500"/><text x="825.300" y="386.500">Clathrin:AP-2<tspan x="825.300" dy="3.500">complex</tspan></text></g>
<g id="n6af"><rect class="c" x="813" y="400" width="30.700" height="12" rx="3.500"/><text x="828.300" y="405.300">PCSK9:LDLR:<tspan x="828.300" dy="3.500">Clathrin:AP2</tspan></text></g>
<g id="n6ag"><rect class="c" x="730.300" y="410.300" width="29.400" height="11.700" rx="3.500"/><text x="745" y="415.500">PCSK9:LDLR:<tspan x="745" dy="3.500">Clathrin:AP2</tspan></text></g>
<g id="n6ah"><rect class="c" x="678.300" y="410" width="28.400" height="11.700" rx="3.500"/><text x="692.500" y="415.200">Clathrin:AP2<tspan x="692.500" dy="3.500">complex</tspan></text></g>
<g id="n6ai"><rect class="c" x="739.300" y="245.700" width="23" height="13" rx="3.500"/><text x="750.800" y="253.200">LDL trimer:LDL</text></g>
<g id="n6aj"><rect class="c" x="789" y="246.300" width="19" height="12" rx="3.500"/><text x="798.500" y="253.300">LDL trimer</text></g>

<g id="n7a"><rect class="p" x="827.700" y="179.300" width="15" height="8.400" rx="1.500"/><text x="835.200" y="184.500">LPA</text></g>
<g id="n7b"><rect class="c" x="827.300" y="212.300" width="16.700" height="9.400" rx="3"/><text x="835.600" y="218">apoA</text></g>
<g id="n7c"><ellipse class="c" cx="866" cy="198.500" rx="7.500" ry="3.200"/><text x="866" y="199.500">LDL</text></g>
<g id="n7d"><rect class="p" x="910.300" y="175.300" width="18.400" height="8.400" rx="1.500"/><text x="919.500" y="180.500">SAR1B</text></g>
<g id="n7e"><rect class="c" x="941.300" y="179.300" width="36.700" height="12" rx="3.500"/><text x="959.700" y="184.500">CHL:cholesterol ester<tspan x="959.700" dy="3.500">complex</tspan></text></g>
<g id="n7f"><rect class="c" x="945.700" y="201.700" width="29.600" height="15" rx="3.500"/><text x="960.500" y="208.500">CETP:triacylglycerol<tspan x="960.500" dy="3.500">complex</tspan></text></g>
<g id="n7g"><rect class="c" x="886" y="206.300" width="36.700" height="12.700" rx="3.500"/><text x="904.300" y="212">CETP:cholesterol ester<tspan x="904.300" dy="3.500">complex</tspan></text></g>
<g id="n7h"><ellipse class="e" cx="936.300" cy="242.700" rx="14.500" ry="5"/><text x="936.300" y="243.700">triacylglycerol</text></g>
<g id="n7i"><rect class="c" x="942.300" y="278" width="36.400" height="18.300" rx="3.500"/><text x="960.500" y="286">CETP:spherical HDL:<tspan x="960.500" dy="3.500">triacylglycerol complex</tspan></text></g>
<g id="n7j"><rect class="c" x="993.300" y="274.700" width="34.700" height="18" rx="3.500"/><text x="1010.700" y="282.700">spherical HDL:<tspan x="1010.700" dy="3.500">triacylglycerol complex</tspan></text></g>

<g id="n8a"><ellipse class="e" cx="1037" cy="187.300" rx="8" ry="5"/><text x="1037" y="188.300">CHOL</text></g>
<g id="n8b"><ellipse class="e" cx="1054" cy="183.700" rx="8" ry="5.500"/><text x="1054" y="184.700">H2O</text></g>
<g id="n8c"><ellipse class="e" cx="1069.300" cy="180" rx="4.500" ry="4.500"/><text x="1069.300" y="181">Pi</text></g>
<g id="n8d"><ellipse class="e" cx="1080" cy="189" rx="8" ry="5.500"/><text x="1080" y="190">ADP</text></g>
<g id="n8e"><ellipse class="e" cx="1043" cy="212" rx="8" ry="5"/><text x="1043" y="213">ATP</text></g>
<g id="n8f"><ellipse class="e" cx="1092.700" cy="200" rx="8" ry="5"/><text x="1092.700" y="201">CHOL</text></g>
<g id="n8g"><ellipse class="e" cx="1089" cy="219.700" rx="5" ry="5"/><text x="1089" y="220.700">PL</text></g>
<g id="n8h"><rect class="c" x="1051.300" y="216.300" width="20" height="12" rx="3.500"/><text x="1061.300" y="223">ABCG1 dimer</text></g>
<g id="n8i"><rect class="c" x="1115.700" y="227.700" width="31.300" height="12.600" rx="3.500"/><text x="1131.300" y="233">discoidal HDL:<tspan x="1131.300" dy="3.500">cholesterol</tspan></text></g>
<g id="n8j"><rect class="s" x="1130" y="245" width="16.700" height="10" rx="1"/><text x="1138.300" y="251">PLTP</text></g>
<g id="n8k"><rect class="c" x="1120.300" y="271.300" width="23.400" height="15" rx="3.500"/><text x="1132" y="278">enlarged<tspan x="1132" dy="3.500">spherical HDL</tspan></text></g>
<g id="n8l"><rect class="c" x="1068.300" y="234.300" width="24.400" height="10.400" rx="3.500"/><text x="1080.500" y="240.500">spherical HDL</text></g>
<g id="n8m"><rect class="p" x="1043.300" y="245.700" width="18.700" height="7.300" rx="1.500"/><text x="1052.700" y="250.400">APOC2</text></g>
<g id="n8n"><rect class="p" x="1032.300" y="254.300" width="14.700" height="7.700" rx="1.500"/><text x="1039.700" y="259">APOE</text></g>
<g id="n8o"><rect class="p" x="1042.300" y="263.700" width="18" height="7.600" rx="1.500"/><text x="1051.300" y="268.500">APOC3</text></g>
<g id="n8p"><rect class="c" x="1051.700" y="286.300" width="30" height="16" rx="3.500"/><text x="1066.700" y="293.300">spherical HDL:apoC-II:<tspan x="1066.700" dy="3.500">apoC-III:apoE</tspan></text></g>
<g id="n8q"><rect class="p" x="1076" y="262.300" width="18.700" height="8" rx="1.500"/><text x="1085.300" y="267.300">LCAT</text></g>
<g id="n8r"><rect class="c" x="1090" y="292.300" width="28.700" height="16" rx="3.500"/><text x="1104.300" y="299.300">LCAT:spherical HDL<tspan x="1104.300" dy="3.500">complex</tspan></text></g>
<g id="n8s"><rect class="c" x="1155.700" y="228.300" width="28.600" height="14.700" rx="3.500"/><text x="1170" y="235">LCAT:discoidal HDL<tspan x="1170" dy="3.500">complex</tspan></text></g>
<g id="n8t"><rect class="p" x="1174.700" y="192" width="18.300" height="7.700" rx="1.500"/><text x="1183.800" y="197">LCAT</text></g>
<g id="n8u"><rect class="p" x="1218.300" y="189.300" width="21.700" height="14" rx="1.500"/><text x="1229.200" y="195.500">APOA1(25-<tspan x="1229.200" dy="3.500">267)</tspan></text></g>
<g id="n8v"><ellipse class="e" cx="1186" cy="172.300" rx="22.700" ry="4.700"/><text x="1186" y="173.300">phosphatidylcholine</text></g>
<g id="n8w"><ellipse class="e" cx="1221.300" cy="172.300" rx="8.300" ry="5.700"/><text x="1221.300" y="173.300">CHOL</text></g>
<g id="n8x"><ellipse class="e" cx="1226.300" cy="214" rx="9.700" ry="7"/><text x="1226.300" y="215">1-acyl LPC</text></g>
<g id="n8y"><ellipse class="e" cx="1207" cy="229" rx="8.300" ry="5.700"/><text x="1207" y="230">CHOE</text></g>
<g id="n8z"><rect class="p" x="1236" y="228.300" width="10" height="8.400" rx="1.500"/></g>
<g id="n8aa"><rect class="c" x="1210.700" y="259" width="32.600" height="16.300" rx="3.500"/><text x="1225" y="264.500">albumin:1-<tspan x="1225" dy="3.300">lysophosphatidylcholine</tspan><tspan x="1225" dy="3.300">complex</tspan></text></g>
<g id="n8ab"><ellipse class="e" cx="1163.300" cy="297" rx="8" ry="5"/><text x="1163.300" y="298">TAGs</text></g>
<g id="n8ac"><ellipse class="e" cx="1171.300" cy="310.300" rx="7" ry="5"/><text x="1171.300" y="311.300">H2O</text></g>
<g id="n8ad"><rect class="c" x="1187.700" y="307.300" width="22.600" height="7.700" rx="3"/><text x="1199" y="312">LIPC dimer</text></g>
<g id="n8ae"><ellipse class="e" cx="1228.300" cy="310.700" rx="9.500" ry="5"/><text x="1228.300" y="311.700">LCFAs</text></g>
<g id="n8af"><ellipse class="e" cx="1232" cy="297" rx="7.500" ry="5"/><text x="1232" y="298">DAGs</text></g>

<g id="n9a"><rect class="c" x="936.300" y="359.300" width="25" height="15.700" rx="3.500"/><text x="948.800" y="366">HDL:PCSK9:<tspan x="948.800" dy="3.500">Clathrin:AP2</tspan></text></g>
<g id="n9b"><rect class="c" x="991.300" y="357.700" width="27.700" height="11" rx="3.500"/><text x="1005.200" y="362.700">Clathrin:AP-2<tspan x="1005.200" dy="3.500">complex</tspan></text></g>
<g id="n9c"><rect class="c" x="1000.700" y="372" width="20.600" height="10.300" rx="3.500"/><text x="1011" y="378">HDL:PCSK9</text></g>
<g id="n9d"><rect class="p" x="1022" y="400.300" width="17.300" height="9.400" rx="1.500"/><text x="1030.700" y="406">PCSK9</text></g>
<g id="n9e"><rect class="p" x="1002.300" y="410.700" width="18.400" height="8" rx="1.500"/><text x="1011.500" y="415.700">SCARB1</text></g>
<g id="n9f"><rect class="c" x="937.300" y="393.700" width="25.400" height="16.600" rx="3.500"/><text x="950" y="401">HDL:PCSK9:<tspan x="950" dy="3.500">Clathrin:AP2</tspan></text></g>
<g id="n9g"><rect class="s" x="977.300" y="411" width="20.700" height="12.700" rx="1"/><text x="987.700" y="418">NPC1L1,CAMK1D</text></g>
<g id="n9h"><rect class="c" x="979" y="428.300" width="19.700" height="11.700" rx="3.500"/><text x="988.800" y="435">PPAP dimer</text></g>
<g id="n9i"><rect class="p" x="1000.300" y="440.700" width="23.700" height="14" rx="1.500"/><text x="1012" y="449">SOL:SCARB1:PLIN3</text></g>
<g id="n9j"><ellipse class="e" cx="1004.700" cy="441" rx="3.500" ry="3.500"/><text x="1004.700" y="442">PL</text></g>
<g id="n9k"><rect class="c" x="1179.700" y="343.300" width="24" height="13.400" rx="3.500"/><text x="1191.700" y="351">spherical HDL</text></g>
<g id="n9l"><rect class="c" x="1142" y="358.300" width="21.300" height="11.700" rx="3.500"/><text x="1152.700" y="365">HDLBP:HDL</text></g>
<g id="n9m"><rect class="p" x="1194.700" y="360" width="25" height="8.700" rx="1.500"/><text x="1207.200" y="365.400">HDLBP</text></g>
<g id="n9n"><rect class="c" x="1115.700" y="378" width="23" height="9.300" rx="3"/><text x="1127.200" y="383.700">CUBN:AMN</text></g>
<g id="n9o"><rect class="p" x="1094" y="387.700" width="22" height="14.300" rx="1.500"/><text x="1105" y="394">APOA-I(25-<tspan x="1105" dy="3.500">268)</tspan></text></g>
<g id="n9p"><rect class="p" x="1195.300" y="376" width="23.400" height="11" rx="1.500"/><text x="1207" y="382.500">SCARB1-2</text></g>
<g id="n9q"><rect class="c" x="1223" y="386.700" width="20" height="11.600" rx="3.500"/><text x="1231" y="393.500">spherical HDL</text></g>
<g id="n9r"><rect class="c" x="1194.700" y="421.300" width="25.300" height="16.400" rx="3.500"/><text x="1207.300" y="428.500">spherical HDL:SR-<tspan x="1207.300" dy="3.500">BI complex</tspan></text></g>
<g id="n9s"><rect class="c" x="1111.300" y="423.300" width="31.700" height="12.700" rx="3.500"/><text x="1127.200" y="428.800">apoA-I:CUBN:AMN<tspan x="1127.200" dy="3.500">complex</tspan></text></g>
<g id="n9t"><rect class="c" x="1221" y="477.700" width="22" height="9.300" rx="3"/><text x="1231" y="483.500">Lnc-Nas</text></g>
<g id="n9u"><ellipse class="e" cx="1130" cy="503.300" rx="8" ry="5"/><text x="1130" y="503.500">TAGs</text></g>
<g id="n9v"><ellipse class="e" cx="1154" cy="503.300" rx="12" ry="7"/><text x="1154" y="503.500">cholesterol ester</text></g>
<g id="n9w"><ellipse class="e" cx="1178.300" cy="503.300" rx="8" ry="5"/><text x="1178.300" y="503.500">CHOL</text></g>
<g id="n9x"><ellipse class="e" cx="1196" cy="503.300" rx="5" ry="5"/><text x="1196" y="503.500">PL</text></g>

<g id="logo">
<path d="M10 487L21 482V498L14 506H10Z" fill="#a9d5e6" opacity=".45"/>
<path d="M14 488L25 484V499L18 506H14Z" fill="#a9d5e6" opacity=".55"/>
<path d="M18 490L33 488V492L28 494V506H21L18 506Z" fill="#7fc0da" opacity=".65"/>
<text x="39" y="502" style="font-family:Lato,'Noto Sans',sans-serif;font-size:23px;font-weight:300;fill:#a9d6e8;text-anchor:start;letter-spacing:.3px">reactome</text>
</g>
</svg>
